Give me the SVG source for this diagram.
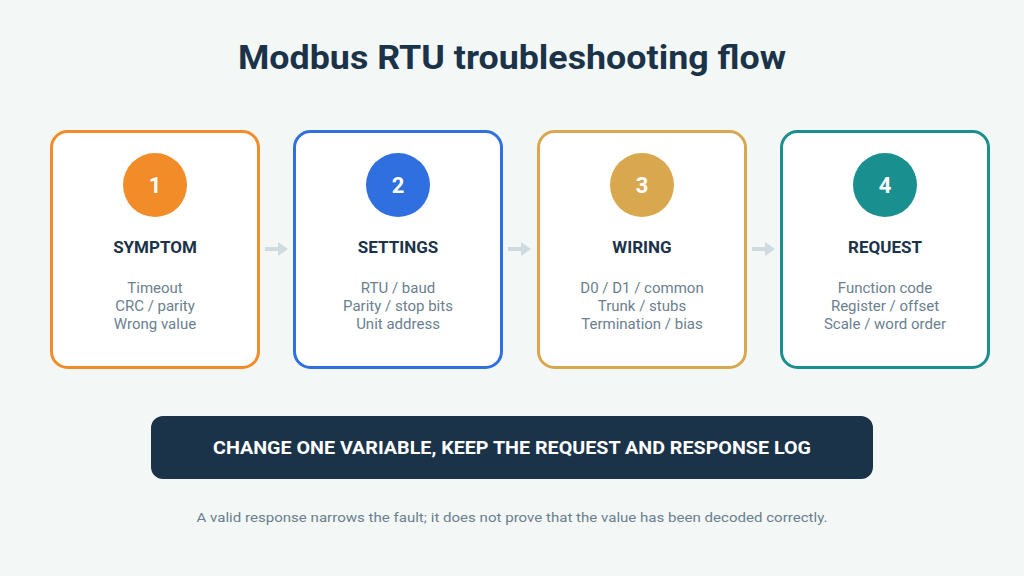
<svg xmlns="http://www.w3.org/2000/svg" width="1024" height="576" viewBox="0 0 1024 576">
<style>
.card{fill:#ffffff;stroke-width:3}
.num{font-family:Roboto,"DejaVu Sans",sans-serif;font-weight:700;font-size:22px;fill:#ffffff;text-anchor:middle}
.head{font-family:Roboto,"DejaVu Sans",sans-serif;font-weight:700;font-size:17px;fill:#1b3349;text-anchor:middle}
.body{font-family:Roboto,"DejaVu Sans",sans-serif;font-size:15px;fill:#6b7f8f;text-anchor:middle}
.arrow{fill:#cfdbdf}
</style>
<rect width="1024" height="576" fill="#f3f7f6"/>
<text x="512" y="69" text-anchor="middle" font-family="Roboto,'DejaVu Sans',sans-serif" font-weight="700" font-size="34" fill="#1b3349" textLength="548" lengthAdjust="spacingAndGlyphs">Modbus RTU troubleshooting flow</text>
<g id="connectors">
<path class="arrow" d="M265,247 h13 v-5 l10,7 l-10,7 v-5 h-13 z"/>
<path class="arrow" d="M508,247 h13 v-5 l10,7 l-10,7 v-5 h-13 z"/>
<path class="arrow" d="M752,247 h13 v-5 l10,7 l-10,7 v-5 h-13 z"/>
</g>
<g id="node1">
<rect class="card" x="51.5" y="131.5" width="207" height="236" rx="16" stroke="#f28c28"/>
<circle cx="155" cy="185" r="32" fill="#f28c28"/>
<text class="num" x="155" y="193">1</text>
<text class="head" x="155" y="253">SYMPTOM</text>
<text class="body" x="155" y="293">Timeout</text>
<text class="body" x="155" y="311">CRC / parity</text>
<text class="body" x="155" y="329">Wrong value</text>
</g>
<g id="node2">
<rect class="card" x="294.5" y="131.5" width="207" height="236" rx="16" stroke="#2f6fe0"/>
<circle cx="398" cy="185" r="32" fill="#2f6fe0"/>
<text class="num" x="398" y="193">2</text>
<text class="head" x="398" y="253">SETTINGS</text>
<text class="body" x="398" y="293">RTU / baud</text>
<text class="body" x="398" y="311">Parity / stop bits</text>
<text class="body" x="398" y="329">Unit address</text>
</g>
<g id="node3">
<rect class="card" x="538.5" y="131.5" width="207" height="236" rx="16" stroke="#d9a84e"/>
<circle cx="642" cy="185" r="32" fill="#d9a84e"/>
<text class="num" x="642" y="193">3</text>
<text class="head" x="642" y="253">WIRING</text>
<text class="body" x="642" y="293">D0 / D1 / common</text>
<text class="body" x="642" y="311">Trunk / stubs</text>
<text class="body" x="642" y="329">Termination / bias</text>
</g>
<g id="node4">
<rect class="card" x="781.5" y="131.5" width="207" height="236" rx="16" stroke="#1a8f8f"/>
<circle cx="885" cy="185" r="32" fill="#1a8f8f"/>
<text class="num" x="885" y="193">4</text>
<text class="head" x="885" y="253">REQUEST</text>
<text class="body" x="885" y="293">Function code</text>
<text class="body" x="885" y="311">Register / offset</text>
<text class="body" x="885" y="329">Scale / word order</text>
</g>
<g id="banner">
<rect x="151" y="416" width="722" height="63" rx="12" fill="#1b3349"/>
<text x="512" y="454" text-anchor="middle" font-family="Roboto,'DejaVu Sans',sans-serif" font-weight="700" font-size="18" fill="#ffffff" textLength="598" lengthAdjust="spacingAndGlyphs">CHANGE ONE VARIABLE, KEEP THE REQUEST AND RESPONSE LOG</text>
</g>
<text x="512" y="522" text-anchor="middle" font-family="Roboto,'DejaVu Sans',sans-serif" font-size="13.5" fill="#6b7f8f" textLength="631" lengthAdjust="spacingAndGlyphs">A valid response narrows the fault; it does not prove that the value has been decoded correctly.</text>
</svg>
